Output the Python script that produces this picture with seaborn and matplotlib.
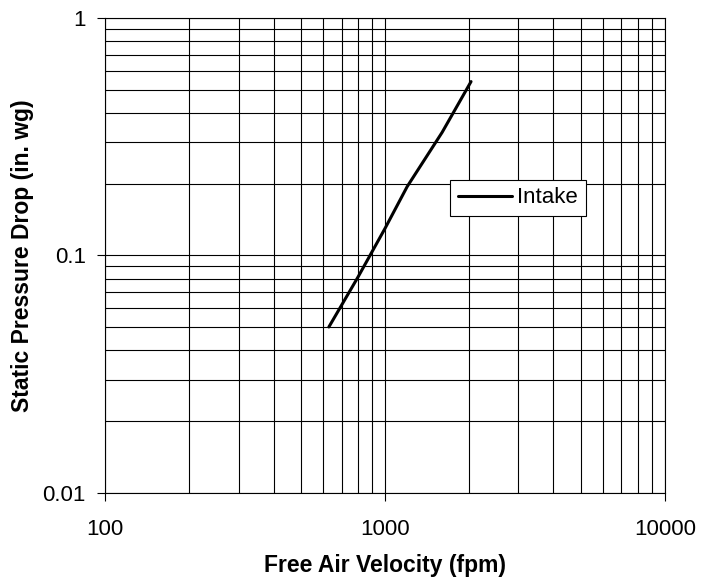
import matplotlib
matplotlib.use("Agg")
import matplotlib.pyplot as plt
import matplotlib.ticker as mticker
import numpy as np
import pandas as pd
import seaborn as sns

# values
velocity = [630, 800, 1000, 1200, 1600, 2030]
pressure = [0.050, 0.081, 0.130, 0.195, 0.33, 0.54]
series = ["Intake"] * len(velocity)

sns.set_style("white", {"text.color": "black", "axes.labelcolor": "black",
                        "xtick.color": "black", "ytick.color": "black"})
plt.rcParams['font.family'] = ['Liberation Sans', 'DejaVu Sans']

df = pd.DataFrame({"Free Air Velocity (fpm)": velocity,
                   "Static Pressure Drop (in. wg)": pressure,
                   "series": series})

fig = plt.figure(figsize=(7.11, 5.82), dpi=100)
ax = fig.add_axes([0.148, 0.153, 0.787, 0.816])

sns.lineplot(data=df, x="Free Air Velocity (fpm)", y="Static Pressure Drop (in. wg)",
             hue="series", palette=["black"], linewidth=2.2, ax=ax, sort=False)

ax.set_xscale("log")
ax.set_yscale("log")
ax.set_xlim(100, 10000)
ax.set_ylim(0.01, 1)

ax.xaxis.set_major_locator(mticker.FixedLocator([100, 1000, 10000]))
ax.xaxis.set_major_formatter(mticker.FixedFormatter(["100", "1000", "10000"]))
ax.yaxis.set_major_locator(mticker.FixedLocator([0.01, 0.1, 1]))
ax.yaxis.set_major_formatter(mticker.FixedFormatter(["0.01", "0.1", "1"]))
ax.xaxis.set_minor_locator(mticker.LogLocator(base=10, subs=np.arange(2, 10)))
ax.yaxis.set_minor_locator(mticker.LogLocator(base=10, subs=np.arange(2, 10)))
ax.xaxis.set_minor_formatter(mticker.NullFormatter())
ax.yaxis.set_minor_formatter(mticker.NullFormatter())

ax.grid(True, which="both", color="black", linewidth=0.8)
for s in ax.spines.values():
    s.set_color("black")
    s.set_linewidth(0.8)

ax.tick_params(axis="both", which="major", direction="out", length=6, width=0.8,
               color="black", labelcolor="black", labelsize=16, bottom=True, left=True)
ax.tick_params(axis="both", which="minor", length=0)
ax.tick_params(axis="x", which="major", pad=13)
ax.tick_params(axis="y", which="major", pad=8)

ax.set_xlabel("Free Air Velocity (fpm)", fontsize=16.5, fontweight="bold",
              labelpad=10, color="black")
ax.set_ylabel("Static Pressure Drop (in. wg)", fontsize=16.5, fontweight="bold",
              labelpad=6, color="black")

leg = ax.legend(loc="lower left", bbox_to_anchor=(0.617, 0.583), frameon=True,
                fancybox=False, edgecolor="black", framealpha=1, fontsize=16,
                handlelength=2.4, handletextpad=0.25, borderpad=0.35,
                borderaxespad=0)
leg.get_frame().set_linewidth(0.8)
for t in leg.get_texts():
    t.set_color("black")

fig.savefig("out.png", dpi=100)
